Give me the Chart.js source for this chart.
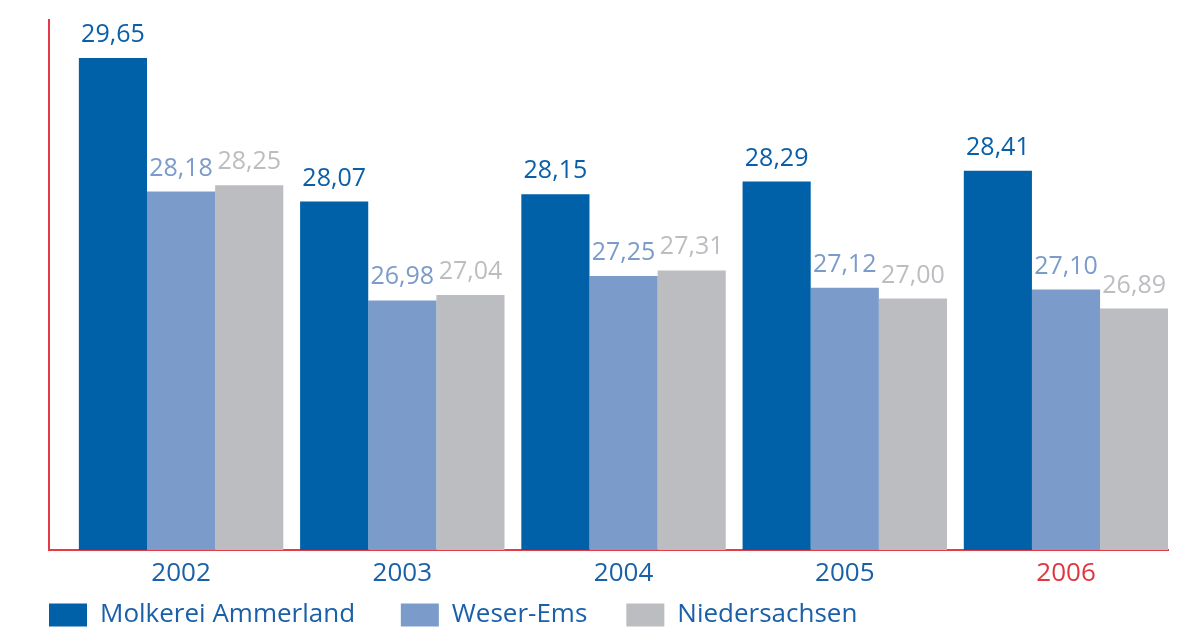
<!DOCTYPE html>
<html>
<head>
<meta charset="utf-8">
<script src="https://cdn.jsdelivr.net/npm/chart.js@4/dist/chart.umd.min.js"></script>
<style>
  html, body { margin: 0; padding: 0; background: #ffffff; overflow: hidden; }
  #wrap { position: relative; width: 1196px; height: 629px; }
</style>
</head>
<body>
<div id="wrap"><canvas id="c"></canvas></div>
<script>
// ---- data ----
const years = ['2002', '2003', '2004', '2005', '2006'];
const seriesNames = ['Molkerei Ammerland', 'Weser-Ems', 'Niedersachsen'];
const ammerland = [29.65, 28.07, 28.15, 28.29, 28.41];
const weserEms = [28.18, 26.98, 27.25, 27.12, 27.10];
const niedersachsen = [28.25, 27.04, 27.31, 27.00, 26.89];

// ---- styles ----
const barColors = ['#0060a8', '#7b9bcb', '#bcbdc1'];
const labelColors = ['#0a5fa8', '#7b9bcb', '#bcbdc1'];
const axisRed = '#e63b46';
const tickBlue = '#1a60a8';
const FONT = '"Open Sans", "DejaVu Sans", sans-serif';
const legendGaps = ['     ', '    ', ''];

const toPoints = arr => arr.map((v, i) => ({ x: i, y: v }));
const seriesValues = [ammerland, weserEms, niedersachsen];

const valueLabels = {
  id: 'valueLabels',
  afterDatasetsDraw(chart) {
    const ctx = chart.ctx;
    ctx.save();
    ctx.font = '25px ' + FONT;
    ctx.textAlign = 'center';
    ctx.textBaseline = 'alphabetic';
    chart.data.datasets.forEach((ds, di) => {
      const meta = chart.getDatasetMeta(di);
      meta.data.forEach((bar, i) => {
        ctx.fillStyle = labelColors[di];
        const txt = ds.data[i].y.toFixed(2).replace('.', ',');
        ctx.fillText(txt, bar.x, bar.y - 16);
      });
    });
    ctx.restore();
  }
};

new Chart(document.getElementById('c'), {
  type: 'bar',
  data: {
    datasets: seriesValues.map((vals, di) => ({
      label: seriesNames[di],
      data: toPoints(vals),
      backgroundColor: barColors[di],
      borderWidth: 0,
      categoryPercentage: 0.924,
      barPercentage: 1.0
    }))
  },
  options: {
    responsive: true,
    maintainAspectRatio: false,
    animation: false,
    events: [],
    layout: { padding: { left: 37, right: 28, top: 20, bottom: -9 } },
    plugins: {
      tooltip: { enabled: false },
      legend: {
        position: 'bottom',
        align: 'start',
        labels: {
          boxWidth: 38,
          boxHeight: 23,
          padding: 12,
          color: tickBlue,
          font: { family: FONT, size: 26 },
          generateLabels: chart => chart.data.datasets.map((ds, i) => ({
            text: ds.label + legendGaps[i],
            fillStyle: barColors[i],
            strokeStyle: barColors[i],
            lineWidth: 0,
            fontColor: tickBlue,
            hidden: false,
            datasetIndex: i
          }))
        }
      }
    },
    scales: {
      x: {
        type: 'linear',
        offset: false,
        min: -0.597,
        max: 4.461,
        grid: { display: false, offset: false, drawTicks: false, tickLength: 0 },
        border: { display: true, color: axisRed, width: 2 },
        afterBuildTicks: s => { s.ticks = years.map((_, i) => ({ value: i })); },
        afterFit: s => { s.height = 40; },
        ticks: {
          autoSkip: false,
          maxRotation: 0,
          padding: 8,
          font: { family: FONT, size: 26 },
          color: c => (c.tick && c.tick.value === 4 ? '#e0363f' : tickBlue),
          callback: v => years[v] !== undefined ? years[v] : ''
        }
      },
      y: {
        min: 24.23,
        max: 30.07,
        grid: { display: false },
        border: { display: true, color: axisRed, width: 2 },
        ticks: { display: false },
        afterFit: s => { s.width = 12; }
      }
    }
  },
  plugins: [valueLabels]
});
</script>
</body>
</html>
